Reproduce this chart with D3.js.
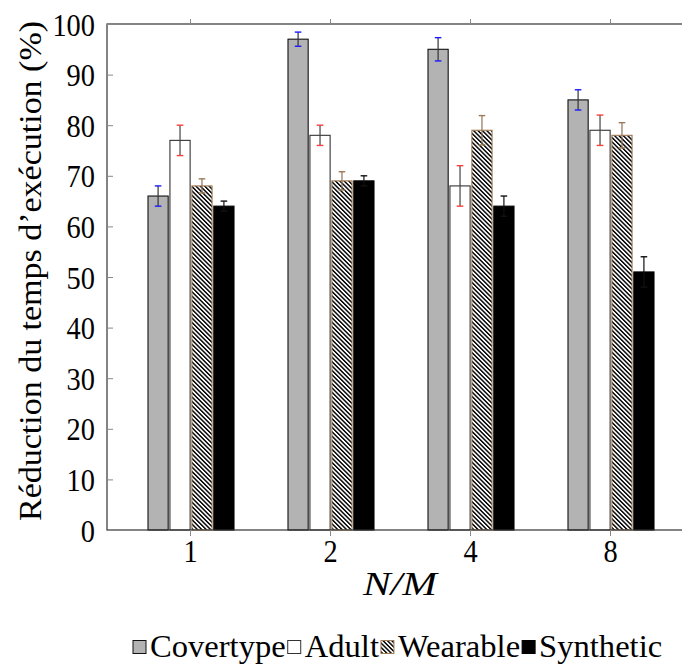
<!DOCTYPE html>
<html>
<head>
<meta charset="utf-8">
<script src="https://cdn.jsdelivr.net/npm/d3@7"></script>
<style>
  html, body { margin: 0; padding: 0; background: #fff; }
  svg { display: block; }
  text { font-family: "Liberation Serif", "DejaVu Serif", serif; fill: #000; }
</style>
</head>
<body>
<svg id="chart" width="682" height="669"></svg>
<script>
// Ratio N/M on the x axis, one group of bars per ratio
const categories = ["1", "2", "4", "8"];
const seriesNames = ["Covertype", "Adult", "Wearable", "Synthetic"];

// Reduction of execution time (%) and error half-widths, per data set
const covertype    = [66, 97, 95, 85];
const covertypeErr = [2, 1.4, 2.3, 2];
const adult        = [77, 78, 68, 79];
const adultErr     = [3, 2, 4, 3];
const wearable     = [68, 69, 79, 78];
const wearableErr  = [1.4, 1.8, 2.9, 2.5];
const synthetic    = [64, 69, 64, 51];
const syntheticErr = [1, 1, 2, 3];

const yTicks = [0, 10, 20, 30, 40, 50, 60, 70, 80, 90, 100];

const series = [
  { name: seriesNames[0], values: covertype, errs: covertypeErr },
  { name: seriesNames[1], values: adult,     errs: adultErr },
  { name: seriesNames[2], values: wearable,  errs: wearableErr },
  { name: seriesNames[3], values: synthetic, errs: syntheticErr }
];

const style = {
  Covertype: { fill: "#b3b3b3", stroke: "#111", errLine: "#333", errCap: "#1a1aff" },
  Adult:     { fill: "#ffffff", stroke: "#333", errLine: "#444", errCap: "#ff3b3b" },
  Wearable:  { fill: "url(#nwlines)", stroke: "#a27d57", errLine: "#8f7356", errCap: "#9c7a58" },
  Synthetic: { fill: "#000000", stroke: "#000", errLine: "#111", errCap: "#111" }
};

const svg = d3.select("#chart");

// Hatch: north-west lines
const defs = svg.append("defs");
const pat = defs.append("pattern")
  .attr("id", "nwlines")
  .attr("patternUnits", "userSpaceOnUse")
  .attr("width", 3.1).attr("height", 3.1)
  .attr("patternTransform", "rotate(-45)");
pat.append("rect").attr("width", 3.1).attr("height", 3.1).attr("fill", "#fff");
pat.append("rect").attr("x", 0).attr("y", 0).attr("width", 1.45).attr("height", 3.1).attr("fill", "#000");

const plot = { left: 107, top: 24, right: 693, bottom: 530 };

const x = d3.scalePoint().domain(categories).range([190, 610]);
const y = d3.scaleLinear().domain([0, 100]).range([plot.bottom, plot.top]);
const inner = d3.scaleBand().domain(seriesNames).range([-42, 44]).paddingInner(0.08);

// Bars
const groups = svg.append("g").attr("class", "bars");
series.forEach(s => {
  const st = style[s.name];
  groups.selectAll(null)
    .data(s.values.map((v, i) => ({ cat: categories[i], v })))
    .join("rect")
    .attr("x", d => x(d.cat) + inner(s.name))
    .attr("y", d => y(d.v))
    .attr("width", inner.bandwidth())
    .attr("height", d => y(0) - y(d.v))
    .attr("fill", st.fill)
    .attr("stroke", st.stroke)
    .attr("stroke-width", 1.1);
});

// Error bars
const errG = svg.append("g").attr("class", "errors");
series.forEach(s => {
  const st = style[s.name];
  const data = s.values.map((v, i) => ({
    cx: x(categories[i]) + inner(s.name) + inner.bandwidth() / 2,
    lo: v - s.errs[i], hi: v + s.errs[i]
  }));
  errG.selectAll(null).data(data).join("line")
    .attr("x1", d => d.cx).attr("x2", d => d.cx)
    .attr("y1", d => y(d.lo)).attr("y2", d => y(d.hi))
    .attr("stroke", st.errLine).attr("stroke-width", 1.2);
  ["lo", "hi"].forEach(k => {
    errG.selectAll(null).data(data).join("line")
      .attr("x1", d => d.cx - 3.3).attr("x2", d => d.cx + 3.3)
      .attr("y1", d => y(d[k])).attr("y2", d => y(d[k]))
      .attr("stroke", st.errCap).attr("stroke-width", 1.4);
  });
});

// Frame
svg.append("rect")
  .attr("x", plot.left).attr("y", plot.top)
  .attr("width", plot.right - plot.left).attr("height", plot.bottom - plot.top)
  .attr("fill", "none").attr("stroke", "#333").attr("stroke-width", 1.2);

// Y axis (ticks pointing inward)
const yAxis = svg.append("g")
  .attr("transform", `translate(${plot.left},0)`)
  .call(d3.axisLeft(y).tickValues(yTicks).tickSize(-6).tickPadding(12));
yAxis.attr("font-family", null);
yAxis.select(".domain").remove();
yAxis.selectAll(".tick line").attr("stroke", "#888").attr("stroke-width", 1);
yAxis.selectAll(".tick text")
  .attr("font-size", 31)
  .attr("fill", "#000")
  .attr("dy", "0.36em")
  .attr("textLength", d => String(d).length * 14.2)
  .attr("lengthAdjust", "spacingAndGlyphs");

// Right-side ticks (mirror)
const yAxisR = svg.append("g")
  .attr("transform", `translate(${plot.right},0)`)
  .call(d3.axisRight(y).tickValues(yTicks).tickSize(-6).tickFormat(""));
yAxisR.select(".domain").remove();
yAxisR.selectAll(".tick line").attr("stroke", "#888");

// X axis (ticks pointing outward, top and bottom)
const xAxis = svg.append("g")
  .attr("transform", `translate(0,${plot.bottom})`)
  .call(d3.axisBottom(x).tickSize(6).tickPadding(6));
xAxis.attr("font-family", null);
xAxis.select(".domain").remove();
xAxis.selectAll(".tick line").attr("stroke", "#888").attr("stroke-width", 1);
xAxis.selectAll(".tick text")
  .attr("font-size", 31)
  .attr("fill", "#000")
  .attr("y", 32).attr("dy", 0)
  .attr("textLength", 14.2)
  .attr("lengthAdjust", "spacingAndGlyphs");

const xAxisTop = svg.append("g")
  .attr("transform", `translate(0,${plot.top})`)
  .call(d3.axisTop(x).tickSize(5).tickFormat(""));
xAxisTop.select(".domain").remove();
xAxisTop.selectAll(".tick line").attr("stroke", "#888");

// Axis titles
svg.append("text")
  .attr("transform", "translate(41,271) rotate(-90)")
  .attr("text-anchor", "middle")
  .attr("font-size", 32)
  .attr("textLength", 500)
  .attr("lengthAdjust", "spacingAndGlyphs")
  .text("Réduction du temps d’exécution (%)");

svg.append("text")
  .attr("x", 400).attr("y", 595)
  .attr("text-anchor", "middle")
  .attr("font-size", 34)
  .attr("font-style", "italic")
  .attr("textLength", 74)
  .attr("lengthAdjust", "spacingAndGlyphs")
  .text("N/M");

// Legend
const legend = svg.append("g").attr("class", "legend");
let lx = 133;
seriesNames.forEach(name => {
  const st = style[name];
  legend.append("rect")
    .attr("x", lx).attr("y", 640.5)
    .attr("width", 13).attr("height", 13)
    .attr("fill", st.fill).attr("stroke", st.stroke).attr("stroke-width", 1);
  lx += 17;
  const t = legend.append("text")
    .attr("x", lx).attr("y", 657)
    .attr("font-size", 32.6)
    .text(name);
  lx += t.node().getComputedTextLength() + 2;
});
</script>
</body>
</html>
